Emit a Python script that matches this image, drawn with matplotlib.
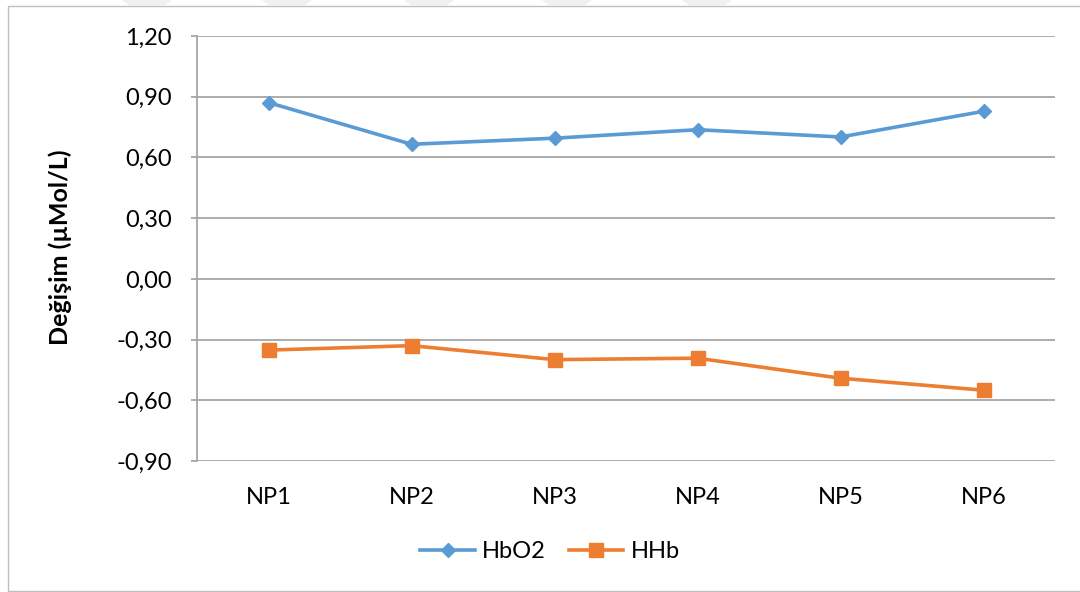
import matplotlib
matplotlib.use("Agg")
import matplotlib.pyplot as plt
from matplotlib.patches import Rectangle, Polygon

plt.rcParams['font.family'] = ['Lato', 'DejaVu Sans']

# data
categories = ["NP1", "NP2", "NP3", "NP4", "NP5", "NP6"]
hbo2 = [0.871, 0.665, 0.695, 0.737, 0.701, 0.828]
hhb = [-0.352, -0.330, -0.399, -0.392, -0.491, -0.550]
yticks = [-0.90, -0.60, -0.30, 0.00, 0.30, 0.60, 0.90, 1.20]

BLUE = "#5B9BD5"
ORANGE = "#ED7D31"
GRID = "#A6A6A6"

W, H = 1080, 592
fig = plt.figure(figsize=(W / 100, H / 100), dpi=100)

# outer chart border
fig.patches.append(Rectangle((8 / W, 1 / H), 1.1, 1 - 7 / H, transform=fig.transFigure,
                             fill=False, edgecolor="#BFBFBF", lw=1.0))

# faint watermark edges at the top
for x0 in [128, 268, 410, 548, 688]:
    pts = [((x0 - 6) / W, 1.0), ((x0 + 44) / W, 1.0), ((x0 + 36) / W, 1 - 6 / H), ((x0 + 2) / W, 1 - 6 / H)]
    fig.patches.append(Polygon(pts, closed=True, transform=fig.transFigure,
                               facecolor="#F0F0F0", edgecolor="none"))

ax = fig.add_axes([197 / W, 1 - 461 / H, (1055 - 197) / W, (461 - 36) / H])

x = list(range(len(categories)))
ax.plot(x, hbo2, color=BLUE, lw=2.6, marker="D", markersize=7, label="HbO2", zorder=3)
ax.plot(x, hhb, color=ORANGE, lw=2.6, marker="s", markersize=10, label="HHb", zorder=3)

ax.set_xlim(-0.5, len(categories) - 0.5)
ax.set_ylim(-0.90, 1.20)
ax.set_yticks(yticks)
ax.set_yticklabels([f"{v:.2f}".replace(".", ",") for v in yticks])
ax.set_xticks(x)
ax.set_xticklabels(categories)

for v in yticks:
    ax.axhline(v, color=GRID, lw=1.3, zorder=1)

for s in ["top", "right", "bottom"]:
    ax.spines[s].set_visible(False)
ax.spines["left"].set_color(GRID)
ax.spines["left"].set_linewidth(1.3)

ax.tick_params(axis="y", length=4, width=1.3, color=GRID, pad=14, labelsize=17, labelcolor="black")
ax.tick_params(axis="x", length=0, pad=19, labelsize=17, labelcolor="black")

fig.text(60 / W, 1 - 247 / H, "Değişim (µMol/L)", rotation=90, ha="center", va="center",
         fontsize=18, fontweight="bold")

fig.legend(loc="center", bbox_to_anchor=(550 / W, 1 - 552 / H), ncol=2, frameon=False,
           fontsize=17, handlelength=2.3, handletextpad=0.3, columnspacing=1.0)

fig.savefig("out.png", dpi=100)
